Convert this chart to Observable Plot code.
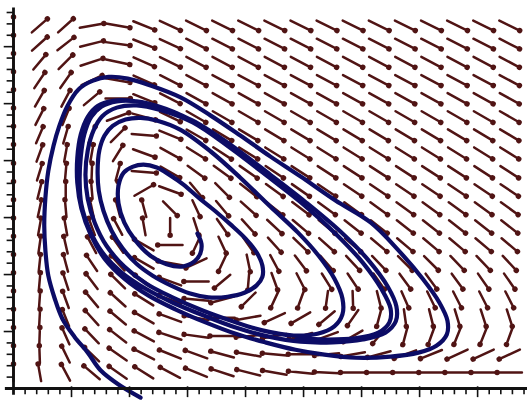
<!DOCTYPE html>
<html><head><meta charset="utf-8">
<script src="https://cdn.jsdelivr.net/npm/d3@7"></script>
<script src="https://cdn.jsdelivr.net/npm/@observablehq/plot@0.6"></script>
<style>html,body{margin:0;padding:0;background:#fff;}</style>
</head><body><div id="chart"></div>
<script>
// direction-field grid (data units)
const gridX = [0,4.5,9,13.5,18,22.5,27,31.5,36,40.5,45,49.5,54,58.5,63,67.5,72,76.5,81,85.5];
const gridY = [63.7,60.5,57.3,54.1,50.9,47.7,44.5,41.3,38.0,34.8,31.6,28.4,25.2,22.0,18.8,15.6,12.4,9.2,6.0,2.8]; // top row first
// arrow directions on screen, degrees (0 = right, 90 = down), rows top to bottom
const fieldAngles = [
  [-90,-41,-42,-10,10,22,25,26,26,26,26,26,26,26,26,26,26,26,26,26],
  [-90,-42,-38,-14,8,22,25,27,27,27,27,27,27,27,27,27,27,27,27,27],
  [-90,-50,-45,-18,12,24,26,28,28,28,28,28,28,28,28,28,28,28,28,28],
  [-90,-56,-55,-25,10,24,27,28,28,28,28,28,28,28,28,28,28,28,28,28],
  [-90,-60,-62,-40,0,22,27,29,29,29,29,29,29,29,29,29,29,29,29,29],
  [-90,-63,-68,-55,-20,15,26,30,30,30,30,30,30,30,30,30,30,30,30,30],
  [-90,-67,-74,-68,-45,5,22,30,31,31,31,31,31,31,31,31,31,31,31,31],
  [-90,-70,-80,-80,-58,20,29,32,33,32,32,32,32,32,32,32,32,32,32,32],
  [-90,-73,-85,-88,-75,5,30,36,36,35,34,33,33,33,33,33,33,33,33,33],
  [-90,-76,-90,-95,-90,-30,20,50,45,38,36,35,34,34,34,34,34,34,34,34],
  [-90,-78,-95,-102,-105,-105,45,65,50,42,38,37,36,36,36,36,36,36,36,36],
  [-90,-80,-100,-110,-118,-100,90,72,55,48,43,40,39,38,38,38,38,38,38,38],
  [-90,-82,-103,-118,-125,-150,180,115,65,55,48,44,42,41,40,40,40,40,40,40],
  [-90,-84,-105,-124,-132,-150,-170,155,115,78,62,53,49,47,46,45,45,46,46,47],
  [-90,-85,-108,-127,-135,-145,-160,180,140,95,70,63,58,56,55,54,54,54,55,55],
  [-90,-86,-110,-130,-138,-148,-160,-175,165,135,115,110,98,88,76,66,64,63,63,63],
  [-90,-87,-112,-132,-140,-150,-160,-170,180,170,155,150,140,125,105,82,76,73,72,72],
  [-90,-88,-114,-134,-142,-152,-162,-172,180,175,170,165,160,150,130,105,110,112,112,110],
  [-90,-92,-116,-136,-145,-153,-158,-160,-165,-170,-175,180,175,170,165,160,158,155,155,155],
  [-90,-100,-118,-140,-145,-148,-152,-158,-162,-166,-170,-174,-177,180,180,180,180,180,180,180]
];
// outer trajectory
const outerX = [21.9,18.1,15.0,12.8,10.5,8.4,7.1,6.0,5.5,5.3,5.5,6.0,6.9,7.9,9.3,11.2,13.6,16.4,19.7,23.6,28.8,34.0,39.1,44.3,49.5,55.5,61.6,66.4,70.5,73.4,74.8,74.7,72.9,69.8,65.0,59.0,53.3,48.6,43.4,38.3,33.1,27.9,23.3,19.1,15.7,13.3,11.7,11.0,11.0,11.6,12.8,14.5,17.1,20.5,24.8,30.5,37.4,44.3,50.5,56.4,61.2,64.5,66.0,65.9,64.1,60.2,55.0,49.5,44.0,38.3,32.8,27.4,22.8,18.6,15.3,13.1,11.7,11.4,11.6,12.2,13.4,15.2,17.8,21.2,25.3,30.9,37.4];
const outerY = [-1.6,0.7,3.2,6.3,9.1,12.3,15.8,19.8,24.2,28.6,33.5,38.2,42.6,46.1,49.6,52.5,54.0,54.7,54.4,53.2,51.1,47.9,44.4,40.7,37.2,33.0,29.1,24.2,19.3,15.1,11.9,9.5,7.5,6.3,5.6,5.4,6.0,6.8,8.1,9.6,11.6,13.9,16.3,19.3,22.8,27.0,31.6,36.1,40.5,44.6,47.7,49.6,50.5,50.5,49.6,47.2,42.8,37.5,32.6,27.5,22.5,17.9,14.4,11.8,9.8,8.6,8.1,8.2,9.1,10.7,12.8,15.1,17.5,20.4,23.9,27.9,32.3,36.5,40.7,44.6,47.7,49.5,50.4,50.4,49.4,47.0,42.8];
// inner trajectory
const innerX = [31.7,32.4,32.2,31.2,29.1,26.4,23.6,21.0,19.1,18.1,18.1,19.0,20.5,22.4,24.7,26.9,29.3,31.9,34.7,37.4,40.0,41.9,42.9,42.9,41.9,39.8,36.9,33.6,30.3,27.1,24.0,21.2,18.8,16.9,15.5,14.7,14.5,14.8,15.7,17.1,19.3,21.9,24.8,28.8,34.0,39.1,44.3,49.0,52.6,55.3,56.7,56.7,55.3,52.4,48.3,42.9,37.8,32.6,27.4,22.9,19.1,16.0,14.0,12.8,12.4,12.8,13.8,15.3,17.8,21.2,25.3,30.9,37.4,44.1,50.2,55.7,60.2,63.4,65.0,64.8,62.9,58.8,53.8,48.8];
const innerY = [27.2,25.4,23.7,22.3,21.4,21.8,23.3,26.0,29.1,32.5,35.6,37.9,38.9,39.3,38.8,37.5,35.8,33.5,31.2,28.8,26.3,23.9,21.6,19.6,18.1,16.8,16.1,16.0,16.7,18.1,19.8,21.9,24.6,27.7,31.2,34.7,38.2,41.8,44.4,46.1,47.2,47.5,47.0,45.4,41.6,37.0,31.9,27.4,23.3,19.3,15.8,13.0,10.9,9.6,9.3,10.2,11.8,13.7,16.0,18.4,21.4,25.1,29.1,33.3,37.5,41.8,45.3,47.8,49.3,49.7,48.9,46.7,42.2,37.0,32.1,27.0,22.1,17.5,14.0,11.6,9.8,8.8,8.6,8.8];
// axis ticks (no labels)
const yMinorTicks = [2,4,6,8,12,14,16,18,22,24,26,28,32,34,36,38,42,44,46,48,52,54,56,58,62,64,66];
const yMajorTicks = [10,20,30,40,50,60];
const xMinorTicks = [2,4,6,8,12,14,16,18,22,24,26,28,32,34,36,38,42,44,46,48,52,54,56,58,62,64,66,68,72,74,76,78,82,84,86,88];
const xMajorTicks = [10,20,30,40,50,60,70,80];

const field = [];
gridY.forEach((y, j) => gridX.forEach((x, i) => field.push({x, y, a: fieldAngles[j][i]})));
const traj = [
  ...outerX.map((x, i) => ({x, y: outerY[i], id: "outer"})),
  ...innerX.map((x, i) => ({x, y: innerY[i], id: "inner"}))
];
// arrow length on screen depends on direction (grid cell aspect)
function arrowLen(a) {
  const t = a * Math.PI / 180;
  return 1 / Math.sqrt((Math.cos(t) / 24.8) ** 2 + (Math.sin(t) / 17.3) ** 2);
}
const headDot = {
  draw(context, l) {
    context.moveTo(0, 0);
    context.lineTo(0, -l);
    context.moveTo(1.5, -l);
    context.arc(0, -l, 1.5, 0, 2 * Math.PI);
  }
};
const ink = "#111";
const svg = Plot.plot({
  width: 529, height: 401,
  marginLeft: 13, marginRight: 2, marginTop: 8, marginBottom: 13,
  x: {domain: [0, 88.6], axis: null},
  y: {domain: [0, 66.7], axis: null},
  length: {type: "identity"},
  marks: [
    Plot.vector(field, {x: "x", y: "y", rotate: d => d.a + 90, length: d => arrowLen(d.a), anchor: "middle",
      shape: headDot, stroke: "#501414", strokeWidth: 2.5, strokeLinecap: "round"}),
    Plot.line(traj, {x: "x", y: "y", z: "id", stroke: "#0c0c66", strokeWidth: 4.2, curve: "catmull-rom", strokeLinejoin: "round"}),
    Plot.ruleY([0], {x1: -1.4, x2: 88.6, stroke: ink, strokeWidth: 2.8}),
    Plot.ruleX([0], {y1: -1.2, y2: 66.8, stroke: ink, strokeWidth: 2.8}),
    Plot.ruleY(yMinorTicks, {x1: -1.1, x2: 0, stroke: ink, strokeWidth: 1.6}),
    Plot.ruleY(yMajorTicks, {x1: -1.6, x2: 0.3, stroke: ink, strokeWidth: 1.6}),
    Plot.ruleX(xMinorTicks, {y1: -1.1, y2: 0, stroke: ink, strokeWidth: 1.6}),
    Plot.ruleX(xMajorTicks, {y1: -1.6, y2: 0.3, stroke: ink, strokeWidth: 1.6})
  ]
});
document.getElementById("chart").appendChild(svg);
</script>
</body></html>
